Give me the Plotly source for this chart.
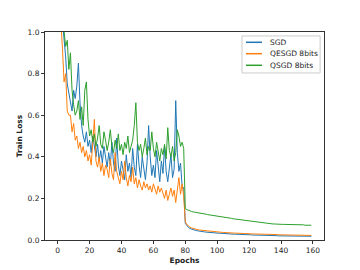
import plotly.graph_objects as go

epochs = list(range(160))

sgd_loss = [
    2.30, 1.60, 1.20, 1.05, 0.98, 0.88, 0.75, 0.70, 0.66, 0.62,
    0.72, 0.68, 0.74, 0.85, 0.66, 0.55, 0.50, 0.47, 0.52, 0.45,
    0.48, 0.42, 0.50, 0.44, 0.40, 0.46, 0.38, 0.43, 0.37, 0.45,
    0.39, 0.35, 0.42, 0.36, 0.47, 0.37, 0.33, 0.49, 0.36, 0.31,
    0.38, 0.34, 0.29, 0.41, 0.33, 0.37, 0.30, 0.44, 0.35, 0.31,
    0.46, 0.36, 0.30, 0.40, 0.33, 0.29, 0.37, 0.55, 0.40, 0.31,
    0.36, 0.30, 0.43, 0.34, 0.28, 0.38, 0.32, 0.45, 0.33, 0.28,
    0.36, 0.41, 0.30, 0.34, 0.67, 0.42, 0.33, 0.37, 0.26, 0.25,
    0.080, 0.068, 0.060, 0.055, 0.052, 0.049, 0.047, 0.045, 0.044, 0.042,
    0.041, 0.040, 0.039, 0.038, 0.037, 0.036, 0.036, 0.035, 0.034, 0.034,
    0.033, 0.033, 0.032, 0.032, 0.031, 0.031, 0.030, 0.030, 0.029, 0.029,
    0.028, 0.028, 0.028, 0.027, 0.027, 0.027, 0.026, 0.026, 0.026, 0.025,
    0.025, 0.025, 0.024, 0.024, 0.024, 0.023, 0.023, 0.023, 0.023, 0.022,
    0.022, 0.022, 0.022, 0.021, 0.021, 0.021, 0.021, 0.021, 0.020, 0.020,
    0.020, 0.020, 0.020, 0.020, 0.019, 0.019, 0.019, 0.019, 0.019, 0.019,
    0.019, 0.018, 0.018, 0.018, 0.018, 0.018, 0.018, 0.018, 0.018, 0.018,
]

qesgd_loss = [
    2.20, 1.45, 1.05, 0.92, 0.76, 0.80, 0.62, 0.60, 0.60, 0.52,
    0.56, 0.48, 0.50, 0.44, 0.47, 0.42, 0.45, 0.40, 0.43, 0.38,
    0.41, 0.36, 0.45, 0.58, 0.38, 0.35, 0.40, 0.33, 0.37, 0.31,
    0.36, 0.34, 0.30, 0.39, 0.32, 0.29, 0.42, 0.33, 0.30, 0.27,
    0.33, 0.29, 0.38, 0.30, 0.26, 0.31, 0.28, 0.35, 0.27, 0.30,
    0.25, 0.29, 0.26, 0.24, 0.28, 0.25, 0.27, 0.24, 0.26, 0.23,
    0.27, 0.24, 0.22, 0.26, 0.23, 0.25, 0.22, 0.20, 0.24, 0.19,
    0.22, 0.25, 0.21, 0.24, 0.18, 0.23, 0.30, 0.22, 0.27, 0.21,
    0.088, 0.074, 0.066, 0.061, 0.058, 0.055, 0.053, 0.051, 0.049, 0.048,
    0.047, 0.046, 0.045, 0.044, 0.043, 0.042, 0.041, 0.040, 0.040, 0.039,
    0.038, 0.038, 0.037, 0.037, 0.036, 0.036, 0.035, 0.035, 0.034, 0.034,
    0.033, 0.033, 0.033, 0.032, 0.032, 0.032, 0.031, 0.031, 0.031, 0.030,
    0.030, 0.030, 0.029, 0.029, 0.029, 0.029, 0.028, 0.028, 0.028, 0.028,
    0.027, 0.027, 0.027, 0.027, 0.026, 0.026, 0.026, 0.026, 0.026, 0.025,
    0.025, 0.025, 0.025, 0.025, 0.024, 0.024, 0.024, 0.024, 0.024, 0.024,
    0.023, 0.023, 0.023, 0.023, 0.023, 0.023, 0.022, 0.022, 0.022, 0.022,
]

qsgd_loss = [
    2.40, 1.70, 1.30, 1.08, 1.00, 0.93, 0.96, 0.82, 0.90, 0.72,
    0.65, 0.60, 0.62, 0.67, 0.58, 0.64, 0.55, 0.72, 0.76, 0.58,
    0.50, 0.53, 0.47, 0.51, 0.45, 0.49, 0.55, 0.46, 0.44, 0.52,
    0.48, 0.43, 0.47, 0.53, 0.45, 0.42, 0.48, 0.44, 0.51, 0.43,
    0.46, 0.41, 0.47, 0.44, 0.50, 0.42, 0.45, 0.48, 0.55, 0.66,
    0.47, 0.43, 0.46, 0.40, 0.44, 0.49, 0.41, 0.45, 0.43, 0.52,
    0.44, 0.40, 0.47, 0.42, 0.38, 0.44, 0.41, 0.46, 0.39, 0.54,
    0.43, 0.40, 0.45, 0.38, 0.42, 0.53, 0.50, 0.45, 0.47, 0.44,
    0.150, 0.146, 0.142, 0.139, 0.137, 0.135, 0.134, 0.132, 0.131, 0.129,
    0.128, 0.127, 0.125, 0.124, 0.122, 0.121, 0.120, 0.118, 0.117, 0.116,
    0.115, 0.114, 0.112, 0.111, 0.110, 0.108, 0.107, 0.106, 0.105, 0.104,
    0.102, 0.101, 0.100, 0.099, 0.098, 0.097, 0.096, 0.094, 0.093, 0.091,
    0.089, 0.088, 0.087, 0.086, 0.085, 0.084, 0.083, 0.082, 0.081, 0.081,
    0.080, 0.079, 0.079, 0.078, 0.078, 0.077, 0.077, 0.076, 0.076, 0.076,
    0.076, 0.075, 0.075, 0.075, 0.074, 0.074, 0.074, 0.073, 0.073, 0.073,
    0.073, 0.072, 0.072, 0.072, 0.073, 0.071, 0.071, 0.072, 0.070, 0.071,
]

series_names = ["SGD", "QESGD 8bits", "QSGD 8bits"]
series_colors = ["#1f77b4", "#ff7f0e", "#2ca02c"]
x_ticks = [0, 20, 40, 60, 80, 100, 120, 140, 160]
y_ticks = [0.0, 0.2, 0.4, 0.6, 0.8, 1.0]

fig = go.Figure()
for name, color, vals in zip(series_names, series_colors, [sgd_loss, qesgd_loss, qsgd_loss]):
    fig.add_trace(go.Scatter(x=epochs, y=vals, mode="lines", name=name,
                             line=dict(color=color, width=1), showlegend=False))

# custom compact legend (matplotlib-like) in paper coordinates
shapes = [dict(type="rect", xref="paper", yref="paper", x0=0.706, x1=0.986, y0=0.803, y1=0.981,
               line=dict(color="#cccccc", width=1), fillcolor="rgba(255,255,255,0.85)", layer="above")]
annotations = []
legend_y = [0.9505, 0.8957, 0.8399]
for name, color, ly in zip(series_names, series_colors, legend_y):
    shapes.append(dict(type="line", xref="paper", yref="paper", x0=0.7204, x1=0.7778, y0=ly, y1=ly,
                       line=dict(color=color, width=1.5), layer="above"))
    annotations.append(dict(xref="paper", yref="paper", x=0.798, y=ly, text=name, showarrow=False,
                            xanchor="left", yanchor="middle", font=dict(size=7.5, color="#222")))

font = "DejaVu Sans"
fig.update_layout(
    width=360, height=270,
    margin=dict(l=45, r=36, t=32, b=30, autoexpand=False),
    plot_bgcolor="white", paper_bgcolor="white",
    font=dict(family=font, size=7.5, color="#222"),
    showlegend=False,
    shapes=shapes, annotations=annotations,
    xaxis=dict(range=[-7.95, 166.95], tickvals=x_ticks, ticks="outside", ticklen=3,
               showgrid=False, zeroline=False, showline=True, mirror=True, automargin=False,
               linecolor="#333", linewidth=1, tickcolor="#333",
               title=dict(text="<b>Epochs</b>", font=dict(size=7.5), standoff=3)),
    yaxis=dict(range=[0, 1], tickvals=y_ticks, tickformat=".1f", ticks="outside", ticklen=3,
               showgrid=False, zeroline=False, showline=True, mirror=True, automargin=False,
               linecolor="#333", linewidth=1, tickcolor="#333",
               title=dict(text="<b>Train Loss</b>", font=dict(size=7.5), standoff=3)),
)

fig.write_html("out.html", config={"displayModeBar": False},
               post_script="document.body.style.margin='0';")
